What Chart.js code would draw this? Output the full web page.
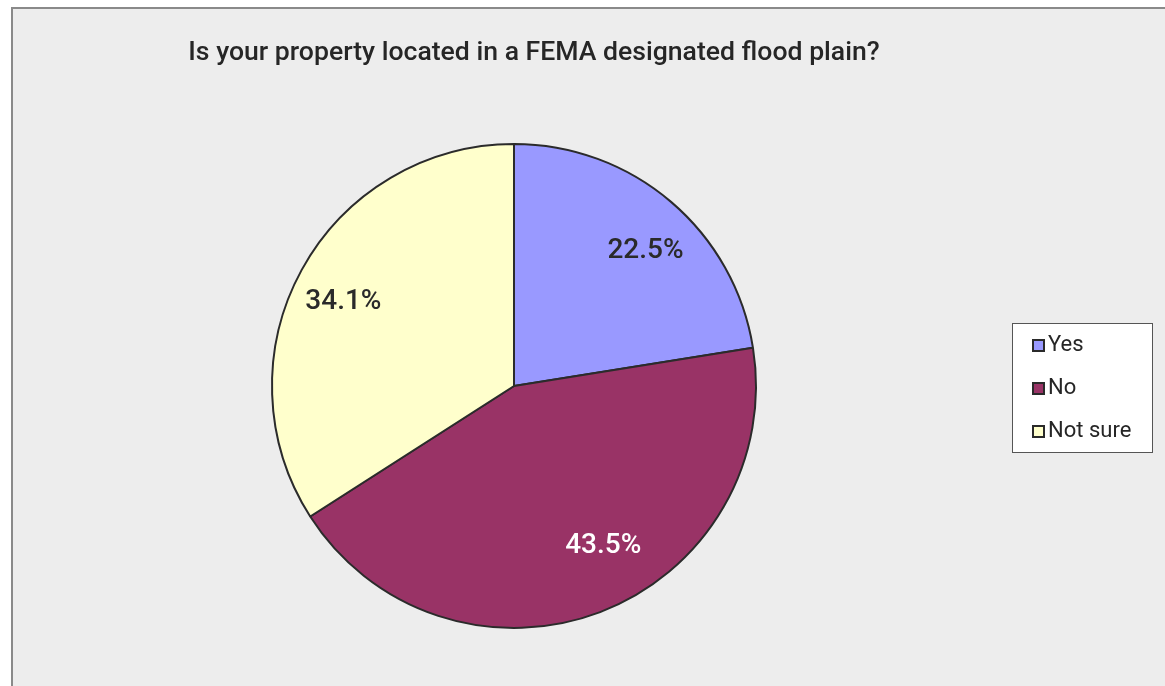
<!DOCTYPE html>
<html>
<head>
<meta charset="utf-8">
<script src="https://cdn.jsdelivr.net/npm/chart.js@4"></script>
<style>
  html, body { margin: 0; padding: 0; background: #ffffff; }
  body { width: 1165px; height: 686px; overflow: hidden; position: relative; }
  #panel { position: absolute; left: 11px; top: 7px; width: 1200px; height: 720px;
           background: #ededed; border-left: 2px solid #8a8a8a; border-top: 2px solid #8a8a8a; box-sizing: border-box; }
  #wrap { position: absolute; left: 0; top: 0; width: 1165px; height: 686px; }
</style>
</head>
<body>
<div id="panel"></div>
<div id="wrap"><canvas id="c" width="1165" height="686"></canvas></div>
<script>
const titleText = "Is your property located in a FEMA designated flood plain?";
const categories = ["Yes", "No", "Not sure"];
const percentages = [22.5, 43.5, 34.1];
const sliceColors = ["#9999FF", "#993366", "#FFFFCC"];
const labelColors = ["#2a2a2a", "#ffffff", "#2a2a2a"];
// style nudges for label placement (pixels, relative to the arc's mid-angle point)
const labelNudge = [[9, 9], [22, -16], [-5, 7]];

const overlay = {
  id: 'overlay',
  afterDatasetsDraw(chart) {
    const ctx = chart.ctx;
    const meta = chart.getDatasetMeta(0);
    ctx.save();
    ctx.font = '500 28px Roboto, "Liberation Sans", sans-serif';
    ctx.textAlign = 'center';
    ctx.textBaseline = 'middle';
    meta.data.forEach((arc, i) => {
      const p = arc.getProps(['x', 'y', 'startAngle', 'endAngle', 'outerRadius'], true);
      const mid = (p.startAngle + p.endAngle) / 2;
      const r = p.outerRadius * 0.78;
      ctx.fillStyle = labelColors[i];
      ctx.fillText(percentages[i].toFixed(1) + '%',
        p.x + Math.cos(mid) * r + labelNudge[i][0],
        p.y + Math.sin(mid) * r + labelNudge[i][1]);
    });
    // title
    ctx.fillStyle = '#262626';
    ctx.font = '500 26.6px Roboto, "Liberation Sans", sans-serif';
    ctx.fillText(titleText, 534, 53);
    // legend
    const lx = 1012, ly = 323, lw = 140, lh = 129;
    ctx.fillStyle = '#ffffff';
    ctx.fillRect(lx, ly, lw, lh);
    ctx.strokeStyle = '#555555';
    ctx.lineWidth = 1;
    ctx.strokeRect(lx + 0.5, ly + 0.5, lw, lh);
    ctx.textAlign = 'left';
    ctx.font = '22px Roboto, "Liberation Sans", sans-serif';
    categories.forEach((name, i) => {
      const y = 345 + i * 43;
      ctx.fillStyle = sliceColors[i];
      ctx.fillRect(1033, y - 5, 11, 11);
      ctx.strokeStyle = '#2a2a2a';
      ctx.lineWidth = 2;
      ctx.strokeRect(1033, y - 5, 11, 11);
      ctx.fillStyle = '#262626';
      ctx.fillText(name, 1048, y);
    });
    ctx.restore();
  }
};

new Chart(document.getElementById('c'), {
  type: 'pie',
  data: {
    labels: categories,
    datasets: [{
      data: percentages,
      backgroundColor: sliceColors,
      borderColor: '#2b2b2b',
      borderWidth: 2
    }]
  },
  options: {
    responsive: false,
    animation: false,
    layout: { padding: { left: 271, right: 408, top: 143, bottom: 57 } },
    plugins: {
      legend: { display: false },
      title: { display: false },
      tooltip: { enabled: false }
    }
  },
  plugins: [overlay]
});
</script>
</body>
</html>
